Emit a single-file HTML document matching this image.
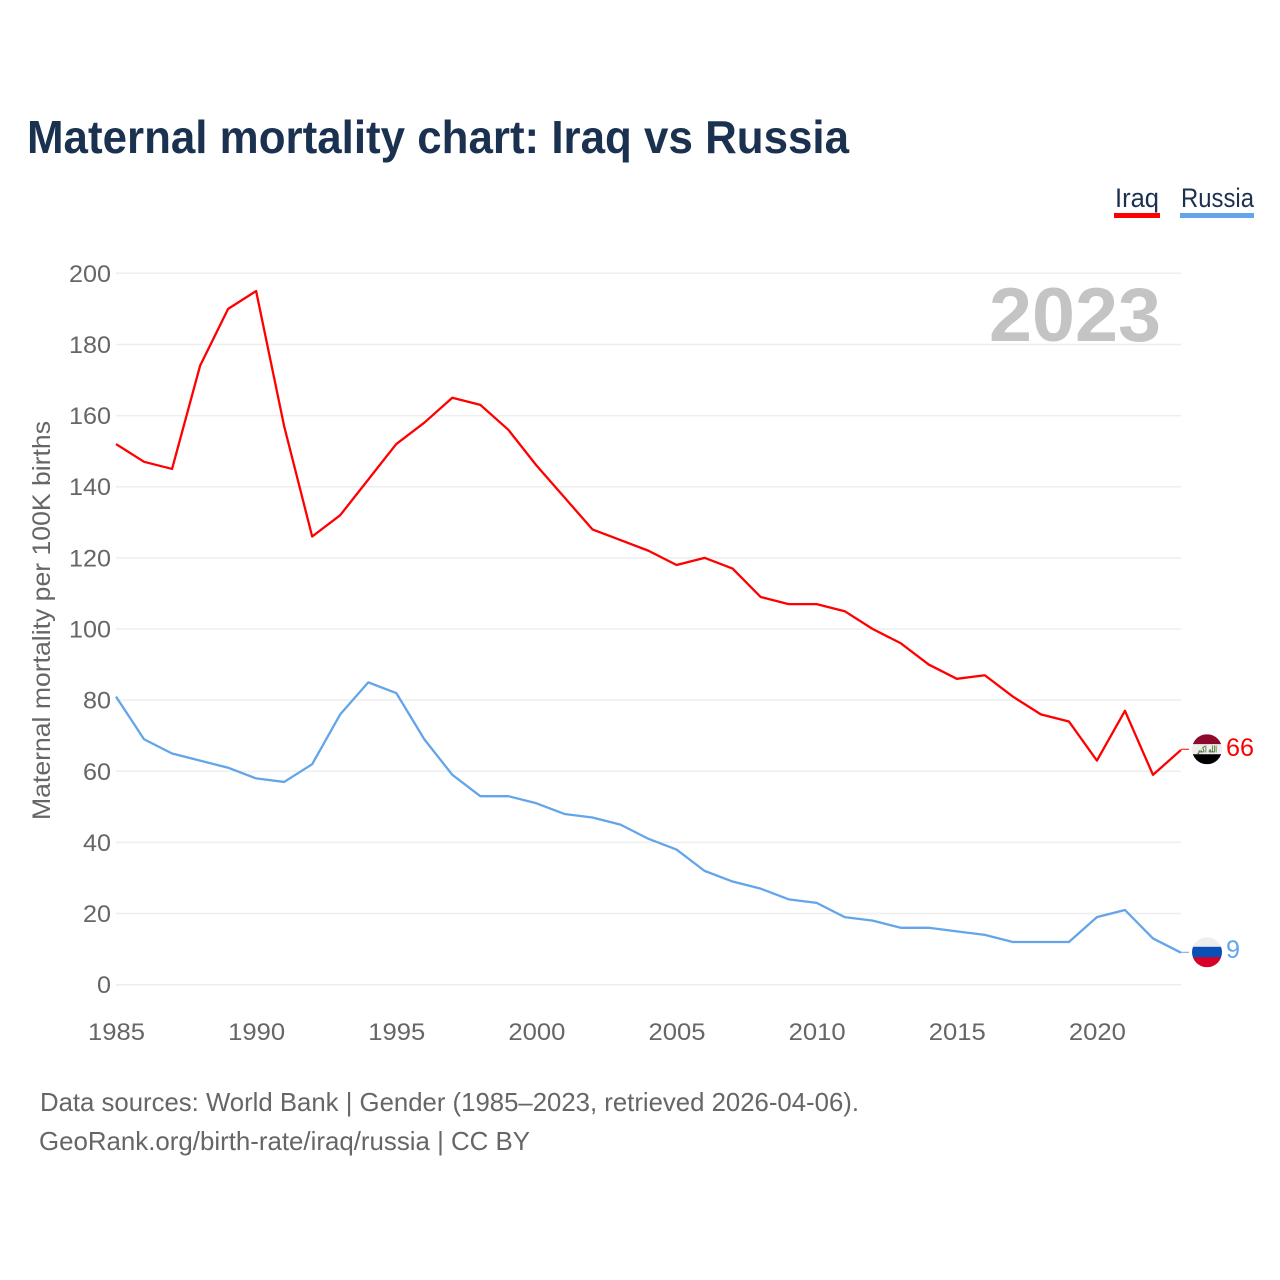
<!DOCTYPE html>
<html lang="en">
<head>
<meta charset="utf-8">
<title>Maternal mortality chart: Iraq vs Russia</title>
<style>
html,body{margin:0;padding:0;background:#fff;width:1280px;height:1280px;overflow:hidden}
svg{display:block}
text{font-family:"Liberation Sans",sans-serif}
</style>
</head>
<body>
<svg id="chart" width="1280" height="1280" viewBox="0 0 1280 1280" xmlns="http://www.w3.org/2000/svg">
  <defs>
    <clipPath id="flag-clip-iraq"><circle id="clip-iraq" r="15"></circle></clipPath>
    <clipPath id="flag-clip-russia"><circle id="clip-russia" r="15"></circle></clipPath>
  </defs>
  <rect width="1280" height="1280" fill="#fff"></rect>
  <text x="27" y="153" font-size="46" font-weight="700" fill="#1a3150" textLength="822" lengthAdjust="spacingAndGlyphs">Maternal mortality chart: Iraq vs Russia</text>

  <g>
    <text x="1115" y="207" font-size="27" fill="#1a3150" textLength="44" lengthAdjust="spacingAndGlyphs">Iraq</text>
    <rect x="1114" y="213" width="46" height="5" fill="#ff0000"></rect>
  </g>
  <g>
    <text x="1181" y="207" font-size="27" fill="#1a3150" textLength="73" lengthAdjust="spacingAndGlyphs">Russia</text>
    <rect x="1180" y="213" width="74" height="5" fill="#62a5ea"></rect>
  </g>

  <g id="grid"></g>
  <g id="y-ticks"></g>
  <g id="x-ticks"></g>

  <text transform="translate(50,820) rotate(-90)" font-size="25" fill="#666666" textLength="399" lengthAdjust="spacingAndGlyphs">Maternal mortality per 100K births</text>
  <text x="989" y="341" font-size="76" font-weight="700" fill="#c4c4c4" textLength="172" lengthAdjust="spacingAndGlyphs">2023</text>

  <g id="series"></g>

  <g id="flag-iraq" clip-path="url(#flag-clip-iraq)">
    <rect id="iraq-red" x="1192" width="30" height="10" fill="#8e0a2a"></rect>
    <rect id="iraq-white" x="1192" width="30" height="10" fill="#eeeeee"></rect>
    <rect id="iraq-black" x="1192" width="30" height="10" fill="#000000"></rect>
    <text id="iraq-script" x="1197" font-size="9" font-weight="700" fill="#4f7a33" textLength="20" lengthAdjust="spacingAndGlyphs" style="font-family:'DejaVu Sans',sans-serif">الله اكبر</text>
  </g>
  <g id="flag-russia" clip-path="url(#flag-clip-russia)">
    <rect id="russia-white" x="1192" width="30" height="10" fill="#eeeeee"></rect>
    <rect id="russia-blue" x="1192" width="30" height="11" fill="#0a4fb5"></rect>
    <rect id="russia-red" x="1192" width="30" height="10" fill="#d80027"></rect>
  </g>
  <text id="label-iraq" x="1226" font-size="25" fill="#ff0000" textLength="28" lengthAdjust="spacingAndGlyphs"></text>
  <text id="label-russia" x="1226" font-size="25" fill="#62a5ea" textLength="14" lengthAdjust="spacingAndGlyphs"></text>

  <text x="40" y="1111" font-size="26" fill="#666666" textLength="819" lengthAdjust="spacingAndGlyphs">Data sources: World Bank | Gender (1985–2023, retrieved 2026-04-06).</text>
  <text x="39" y="1150" font-size="26" fill="#666666" textLength="491" lengthAdjust="spacingAndGlyphs">GeoRank.org/birth-rate/iraq/russia | CC BY</text>
</svg>
<script>
const years = [1985,1986,1987,1988,1989,1990,1991,1992,1993,1994,1995,1996,1997,1998,1999,2000,2001,2002,2003,2004,2005,2006,2007,2008,2009,2010,2011,2012,2013,2014,2015,2016,2017,2018,2019,2020,2021,2022,2023];
const iraqValues = [152,147,145,174,190,195,157,126,132,142,152,158,165,163,156,146,137,128,125,122,118,120,117,109,107,107,105,100,96,90,86,87,81,76,74,63,77,59,66];
const russiaValues = [81,69,65,63,61,58,57,62,76,85,82,69,59,53,53,51,48,47,45,41,38,32,29,27,24,23,19,18,16,16,15,14,12,12,12,19,21,13,9];
const yTickLabels = [0,20,40,60,80,100,120,140,160,180,200];
const xTickLabels = [1985,1990,1995,2000,2005,2010,2015,2020];

const NS = 'http://www.w3.org/2000/svg';
const plotLeft = 116, plotRight = 1181, plotBottom = 984.7, plotTop = 273.3;
function xScale(year) {
  return plotLeft + (year - years[0]) / (years[years.length - 1] - years[0]) * (plotRight - plotLeft);
}
function yScale(value) {
  return plotBottom - value / 200 * (plotBottom - plotTop);
}
function make(tag, parent, attrs, text) {
  const el = document.createElementNS(NS, tag);
  for (const k in attrs) el.setAttribute(k, attrs[k]);
  if (text !== undefined) el.textContent = text;
  parent.appendChild(el);
  return el;
}
const grid = document.getElementById('grid');
const yTicks = document.getElementById('y-ticks');
const xTicks = document.getElementById('x-ticks');
const series = document.getElementById('series');

yTickLabels.forEach(function (v) {
  const line = make('line', grid, {x1: plotLeft, x2: plotRight, y1: yScale(v), y2: yScale(v), stroke: '#eeeeee', 'stroke-width': 1.5});
  
  
  const s = String(v);
  const label = make('text', yTicks, {x: 111, y: yScale(v) + 8.5, 'text-anchor': 'end', 'font-size': 24, fill: '#666666', textLength: s.length * 14, lengthAdjust: 'spacingAndGlyphs'}, s);
  
  
});
xTickLabels.forEach(function (y) {
  const label = make('text', xTicks, {x: xScale(y) + 0.5, y: 1040, 'text-anchor': 'middle', 'font-size': 24, fill: '#666666', textLength: 57, lengthAdjust: 'spacingAndGlyphs'}, String(y));
  
  
});
function linePath(values) {
  return values.map(function (v, i) {
    return (i ? 'L' : 'M') + xScale(years[i]).toFixed(2) + ' ' + yScale(v).toFixed(2);
  }).join(' ');
}
const iraqLine = make('path', series, {d: linePath(iraqValues), fill: 'none', stroke: '#ff0000', 'stroke-width': 2.3, 'stroke-linejoin': 'round'});


const russiaLine = make('path', series, {d: linePath(russiaValues), fill: 'none', stroke: '#62a5ea', 'stroke-width': 2.3, 'stroke-linejoin': 'round'});



const iraqLast = iraqValues[iraqValues.length - 1];
const russiaLast = russiaValues[russiaValues.length - 1];
const iy = yScale(iraqLast) - 0.7;
const ry = yScale(russiaLast) - 0.4;

const iraqConn = make('line', series, {x1: plotRight, x2: 1189, y1: iy, y2: iy, stroke: '#ff0000', 'stroke-width': 1});


const russiaConn = make('line', series, {x1: plotRight, x2: 1189, y1: ry, y2: ry, stroke: '#62a5ea', 'stroke-width': 1});



function setAttrs(id, attrs) {
  const el = document.getElementById(id);
  for (const k in attrs) el.setAttribute(k, attrs[k]);
  return el;
}
setAttrs('clip-iraq', {cx: 1207, cy: iy});
setAttrs('clip-russia', {cx: 1207, cy: ry});
setAttrs('iraq-red', {y: iy - 15});
setAttrs('iraq-white', {y: iy - 5});
setAttrs('iraq-black', {y: iy + 5});
setAttrs('iraq-script', {y: iy + 3.5});
setAttrs('russia-white', {y: ry - 15});
setAttrs('russia-blue', {y: ry - 5.5});
setAttrs('russia-red', {y: ry + 5});
setAttrs('label-iraq', {y: iy + 7});
document.getElementById('label-iraq').textContent = String(iraqLast);
setAttrs('label-russia', {y: ry + 5.5});
document.getElementById('label-russia').textContent = String(russiaLast);
</script>
</body>
</html>
